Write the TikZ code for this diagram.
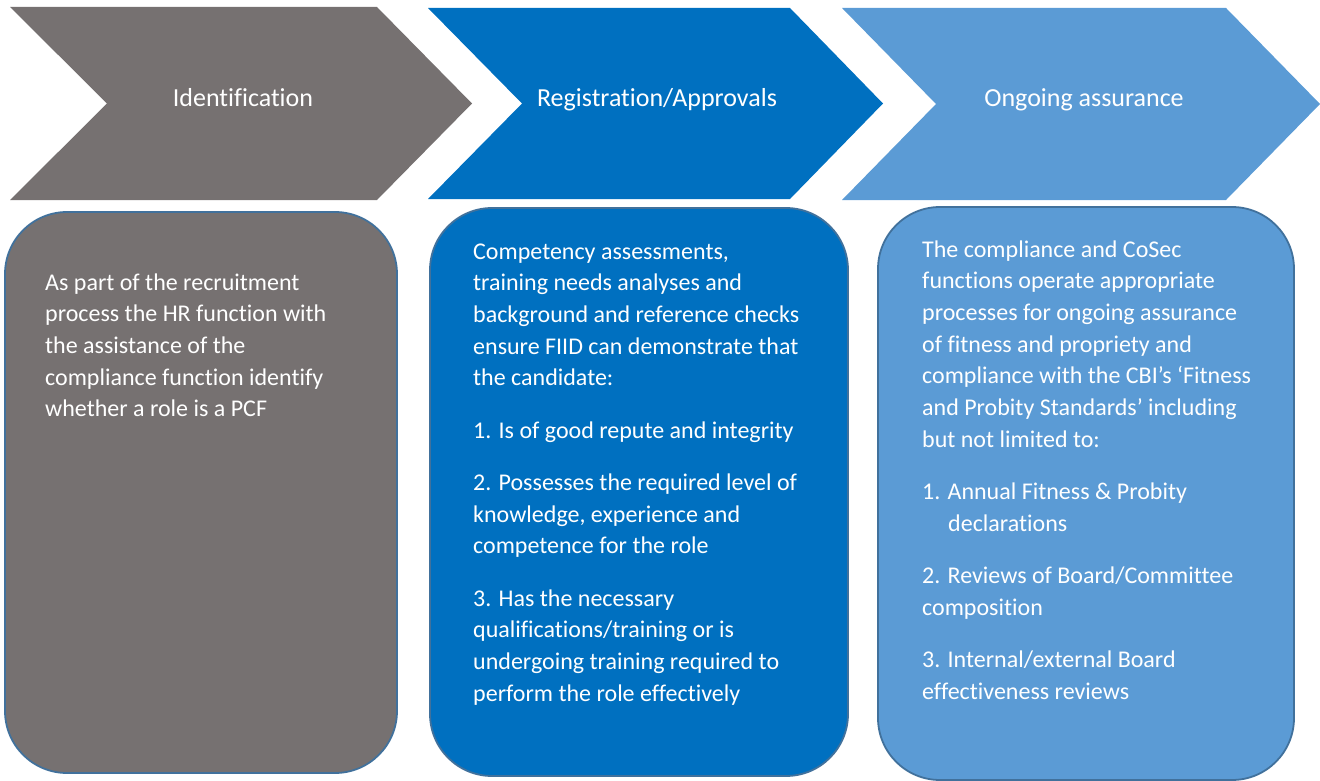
\documentclass[tikz,border=0pt]{standalone}
\usepackage{fontspec}
\setmainfont{Carlito}[Ligatures=NoCommon]
\definecolor{cgrey}{HTML}{767171}
\definecolor{cblue}{HTML}{0070C0}
\definecolor{clight}{HTML}{5B9BD5}
\definecolor{cedge}{HTML}{41719C}
\tikzset{
  chev/.style={draw=none},
  title/.style={text=white, font=\fontsize{26}{31}\selectfont, anchor=base, inner sep=0pt},
  card/.style={draw=cedge, line width=1.8pt, rounded corners=62pt},
  body/.style={text=white, font=\fontsize{24}{31.7}\selectfont, anchor=north west, inner sep=0pt, align=left}
}
\begin{document}
\begin{tikzpicture}[x=1pt,y=-1pt]
\useasboundingbox (0,0) rectangle (1320,781);
% chevrons
\fill[cgrey] (10,7) -- (377,7) -- (472,103.5) -- (377,200) -- (10,200) -- (107,103.5) -- cycle;
\fill[cblue] (428,8) -- (790,8) -- (883,103.5) -- (790,199) -- (428,199) -- (522,103.5) -- cycle;
\fill[clight] (842,8) -- (1226,8) -- (1320,104) -- (1226,200) -- (842,200) -- (936,104) -- cycle;
\node[title] (t1) at (243,107) {Identification};
\node[title] (t2) at (657,107) {Registration/Approvals};
\node[title] (t3) at (1084,107) {Ongoing assurance};
% cards
\draw[card, fill=cgrey] (5,212) rectangle (397,773);
\draw[card, fill=cblue] (430,208) rectangle (848,776);
\draw[card, fill=clight] (878,207) rectangle (1294,780);
\node[body] (b1) at (45,267.8) {\strut As part of the recruitment\\process the HR function with\\the assistance of the\\compliance function identify\\whether a role is a PCF};
\node[body] (b2) at (473,236.8) {\strut Competency assessments,\\training needs analyses and\\background and reference checks\\ensure FIID can demonstrate that\\the candidate:\\[20.6pt]1. Is of good repute and integrity\\[20.6pt]2. Possesses the required level of\\knowledge, experience and\\competence for the role\\[20.6pt]3. Has the necessary\\qualifications/training or is\\undergoing training required to\\perform the role effectively};
\node[body] (b3) at (922,234.8) {\strut The compliance and CoSec\\functions operate appropriate\\processes for ongoing assurance\\of fitness and propriety and\\compliance with the CBI’s ‘Fitness\\and Probity Standards’ including\\but not limited to:\\[20.6pt]1. Annual Fitness \& Probity\\\hspace*{26pt}declarations\\[20.6pt]2. Reviews of Board/Committee\\composition\\[20.6pt]3. Internal/external Board\\effectiveness reviews};
\end{tikzpicture}
\end{document}
